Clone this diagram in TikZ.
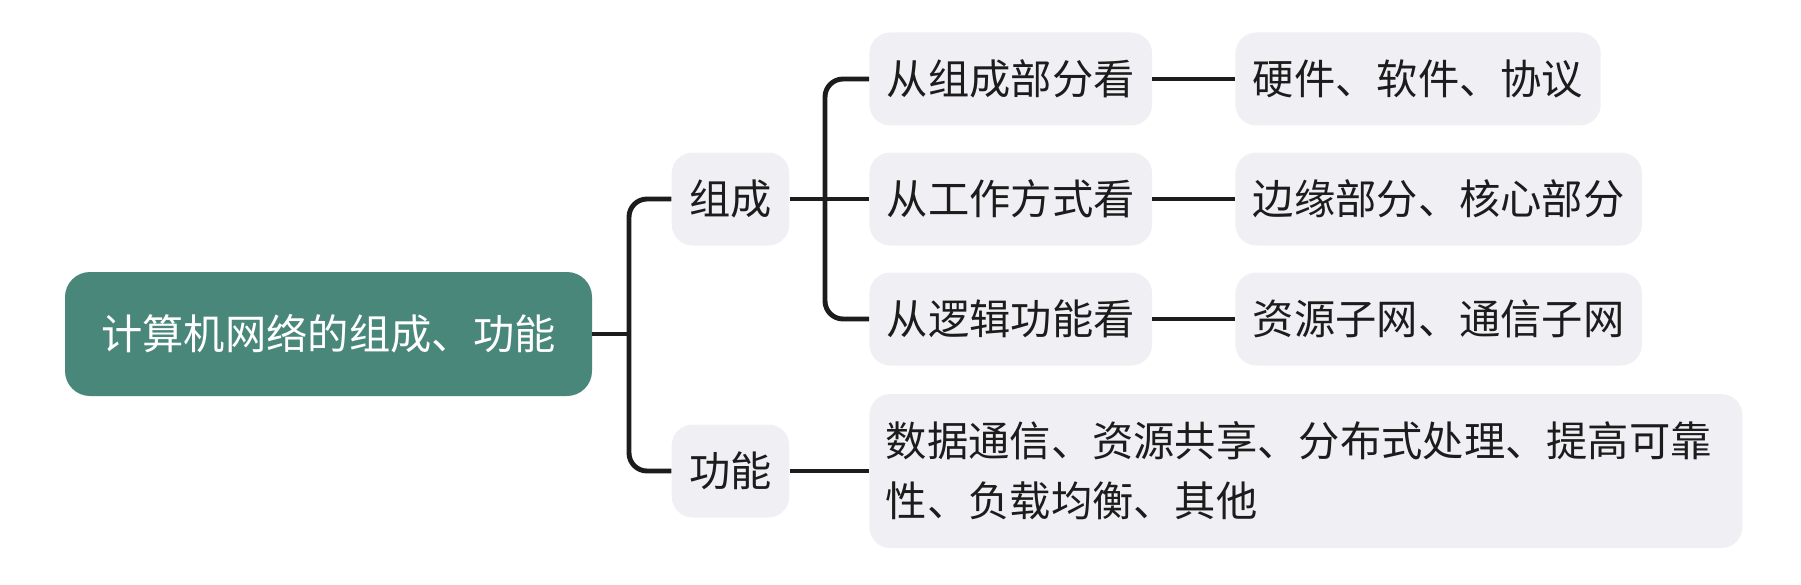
\documentclass[tikz,border=0pt]{standalone}
\usepackage{fontspec}
\setmainfont{Noto Sans CJK SC}
\usetikzlibrary{calc}
\definecolor{MapTeal}{HTML}{4A877B}
\definecolor{MapGrey}{HTML}{F0EFF3}
\definecolor{MapInk}{HTML}{1C1C1C}

\begin{document}
\begin{tikzpicture}[
    rootbox/.style={fill=MapTeal,text=white,rounded corners=0.5cm,
      minimum width=10.54cm,minimum height=2.48cm,inner sep=0pt,
      font=\fontsize{23.5}{28}\selectfont},
    topicbox/.style={fill=MapGrey,text=MapInk,rounded corners=0.42cm,
      minimum height=1.86cm,inner xsep=0.35cm,inner ysep=0pt,
      font=\fontsize{23.5}{28}\selectfont},
    link/.style={draw=MapInk,line width=2.8pt,rounded corners=0.36cm}]

  \useasboundingbox (0,0) rectangle (36.02,11.68);

  % root and first level
  \node[rootbox] (root) at (6.57,5.00) {计算机网络的组成、功能};

  \node[topicbox] (zucheng) at (14.61,7.70) {组成};
  \node[topicbox] (gongneng) at (14.61,2.26) {功能};

  % second level
  \node[topicbox,anchor=west] (zufen) at (17.38,10.10) {从组成部分看};
  \node[topicbox,anchor=west] (gongzuo) at (17.38,7.70) {从工作方式看};
  \node[topicbox,anchor=west] (luoji) at (17.38,5.30) {从逻辑功能看};

  % leaves
  \node[topicbox,anchor=west] (yingjian) at (24.70,10.10) {硬件、软件、协议};
  \node[topicbox,anchor=west] (bianyuan) at (24.70,7.70) {边缘部分、核心部分};
  \node[topicbox,anchor=west] (ziyuan) at (24.70,5.30) {资源子网、通信子网};

  \node[topicbox,anchor=west,text width=16.8cm,align=left,
    inner xsep=0.33cm,minimum height=3.08cm,
    font=\fontsize{23.5}{34}\selectfont] (shuju) at (17.38,2.26)
    {数据通信、资源共享、分布式处理、提高可靠\\性、负载均衡、其他};

  % connectors
  \coordinate (trunk) at (12.58,5.00);
  \coordinate (branch) at (16.50,7.70);

  \draw[link] (root.east) -- (trunk);
  \draw[link] (zucheng.west) -| (trunk) |- (gongneng.west);

  \draw[link] (zucheng.east) -- (gongzuo.west);
  \draw[link] (zufen.west) -| (branch) |- (luoji.west);

  \draw[link] (zufen.east) -- (yingjian.west);
  \draw[link] (gongzuo.east) -- (bianyuan.west);
  \draw[link] (luoji.east) -- (ziyuan.west);
  \draw[link] (gongneng.east) -- (shuju.west);

\end{tikzpicture}
\end{document}
